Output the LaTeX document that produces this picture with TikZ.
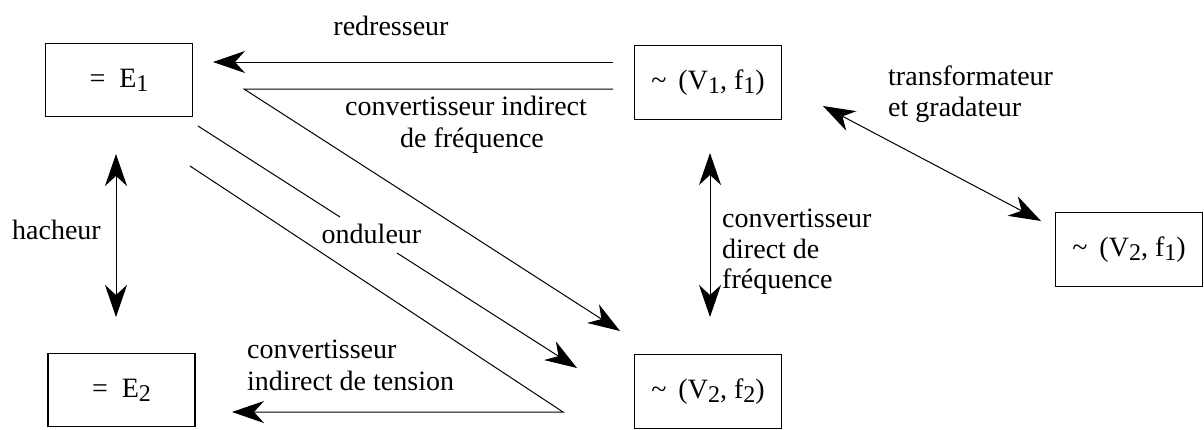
\documentclass[tikz,border=0pt]{standalone}
\usepackage{fontspec}
\setmainfont{Liberation Serif}
\usetikzlibrary{arrows.meta}
\newcommand\sbs[1]{\raisebox{-4pt}{\fontsize{24}{24}\selectfont #1}}
\begin{document}
\begin{tikzpicture}[x=1pt,y=-1pt,
  font=\fontsize{28}{32}\selectfont,
  box/.style={draw, line width=1.3pt, minimum width=147pt, minimum height=73.5pt, inner sep=0pt},
  lbl/.style={inner sep=0pt, anchor=base west},
  lblc/.style={inner sep=0pt, anchor=base},
  conn/.style={line width=1pt},
  tip/.style={-{Stealth[length=32pt,width=22pt,inset=10pt]}},
  dtip/.style={{Stealth[length=32pt,width=22pt,inset=10pt]}-{Stealth[length=32pt,width=22pt,inset=10pt]}}]
\useasboundingbox (0,0) rectangle (1204,429);
% boxes
\node[box] (E1) at (119,80) {=\hspace{14pt}E\sbs{1}};
\node[box] (V1) at (708,82.5) {\textasciitilde\hspace{12pt}(V\sbs{1}, f\sbs{1})};
\node[box] (E2) at (121.5,390) {=\hspace{14pt}E\sbs{2}};
\node[box] (V2f2) at (708,391.5) {\textasciitilde\hspace{12pt}(V\sbs{2}, f\sbs{2})};
\node[box] (V2f1) at (1129,249.5) {\textasciitilde\hspace{12pt}(V\sbs{2}, f\sbs{1})};
% connector end points
\coordinate (r1) at (613,62);  \coordinate (r2) at (213,62);
\coordinate (f1) at (613,89);  \coordinate (f2) at (244,89);  \coordinate (f3) at (620,331);
\coordinate (o1) at (198,126); \coordinate (o2) at (340,217); \coordinate (o3) at (397,253); \coordinate (o4) at (577,368);
\coordinate (t1) at (190,166); \coordinate (t2) at (563,412); \coordinate (t3) at (232,412);
\coordinate (h1) at (116,154); \coordinate (h2) at (116,317);
\coordinate (d1) at (710,153); \coordinate (d2) at (710,317);
\coordinate (g1) at (823,106); \coordinate (g2) at (1041,221);
% connectors
\draw[conn,tip] (r1) -- (r2);
\draw[conn,tip] (f1) -- (f2) -- (f3);
\draw[conn] (o1) -- (o2);
\draw[conn,tip] (o3) -- (o4);
\draw[conn,tip] (t1) -- (t2) -- (t3);
\draw[conn,dtip] (h1) -- (h2);
\draw[conn,dtip] (d1) -- (d2);
\draw[conn,dtip] (g1) -- (g2);
% labels
\node[lblc] (lred) at (391,35) {redresseur};
\node[lblc] (lcif1) at (466,115) {convertisseur indirect};
\node[lblc] (lcif2) at (472,147) {de fréquence};
\node[lbl] (ltr1) at (888,85) {transformateur};
\node[lbl] (ltr2) at (888,116) {et gradateur};
\node[lbl] (lhach) at (12,239) {hacheur};
\node[lblc] (lond) at (371.5,243) {onduleur};
\node[lbl] (ldf1) at (722,227) {convertisseur};
\node[lbl] (ldf2) at (722,258) {direct de};
\node[lbl] (ldf3) at (722,288) {fréquence};
\node[lbl] (lit1) at (247,358) {convertisseur};
\node[lbl] (lit2) at (247,390) {indirect de tension};
\end{tikzpicture}
\end{document}
